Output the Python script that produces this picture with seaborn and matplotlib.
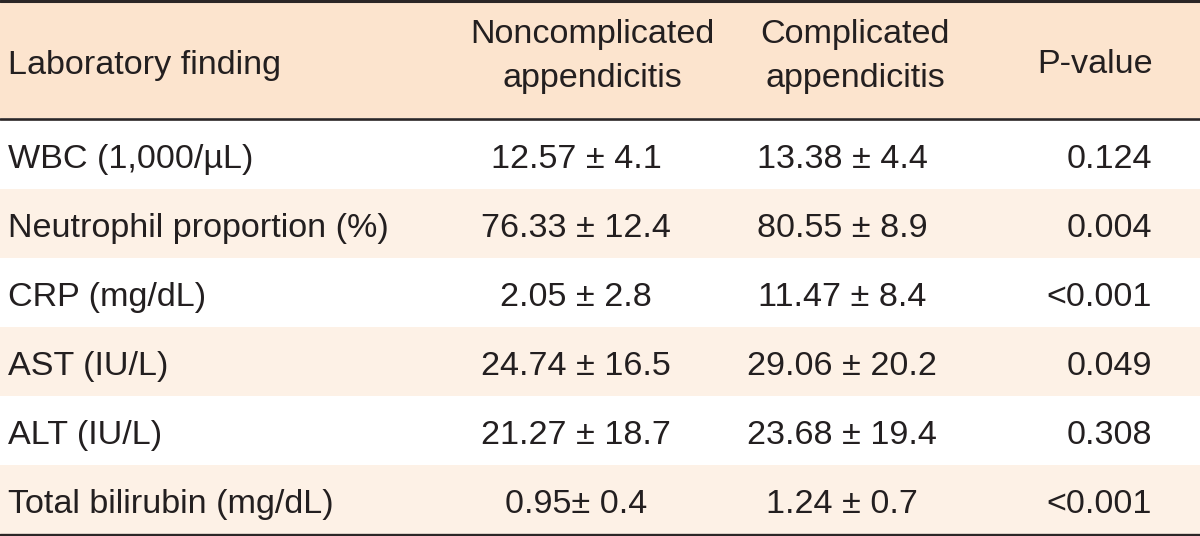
import matplotlib
matplotlib.use("Agg")
import matplotlib.pyplot as plt
import seaborn as sns

# ---- data ----
col_headers = ["Laboratory finding", "Noncomplicated\nappendicitis",
               "Complicated\nappendicitis", "P-value"]
findings = ["WBC (1,000/\u00b5L)", "Neutrophil proportion (%)", "CRP (mg/dL)",
            "AST (IU/L)", "ALT (IU/L)", "Total bilirubin (mg/dL)"]
noncomplicated = ["12.57 \u00b1 4.1", "76.33 \u00b1 12.4", "2.05 \u00b1 2.8",
                  "24.74 \u00b1 16.5", "21.27 \u00b1 18.7", "0.95\u00b1 0.4"]
complicated = ["13.38 \u00b1 4.4", "80.55 \u00b1 8.9", "11.47 \u00b1 8.4",
               "29.06 \u00b1 20.2", "23.68 \u00b1 19.4", "1.24 \u00b1 0.7"]
p_values = ["0.124", "0.004", "<0.001", "0.049", "0.308", "<0.001"]

# ---- style ----
sns.set_theme(style="white")
plt.rcParams["font.family"] = ["Liberation Sans", "DejaVu Sans"]

TXT = "#231f20"
HEAD_BG = "#fce4ce"
ALT_BG = "#fdf1e6"
LINE = "#2b2626"
FS = 24.6

W, H = 1200, 536
fig = plt.figure(figsize=(W / 100, H / 100), dpi=100)
ax = fig.add_axes([0, 0, 1, 1])
ax.set_xlim(0, W)
ax.set_ylim(H, 0)
ax.axis("off")

header_top, header_bot = 2, 118
row_h = 69
rows_top = 120

# backgrounds
ax.axhspan(header_top, header_bot, color=HEAD_BG, lw=0)
for i in range(len(findings)):
    if i % 2 == 1:
        y0 = rows_top + i * row_h
        ax.axhspan(y0, y0 + row_h, color=ALT_BG, lw=0)

# rules
ax.axhline(1.2, color=LINE, lw=2.2)
ax.axhline(119, color=LINE, lw=1.9)
ax.axhline(534.5, color=LINE, lw=2.4)

# header text
ax.text(8, 74, col_headers[0], fontsize=FS, color=TXT, ha="left", va="baseline")
for x, txt in [(592, col_headers[1]), (855, col_headers[2])]:
    l1, l2 = txt.split("\n")
    ax.text(x, 43, l1, fontsize=FS, color=TXT, ha="center", va="baseline")
    ax.text(x, 87, l2, fontsize=FS, color=TXT, ha="center", va="baseline")
ax.text(1153, 73, col_headers[3], fontsize=FS, color=TXT, ha="right", va="baseline")

# body
for i, (f, a, b, p) in enumerate(zip(findings, noncomplicated, complicated, p_values)):
    yb = 168 + i * row_h
    ax.text(8, yb, f, fontsize=FS, color=TXT, ha="left", va="baseline")
    ax.text(576, yb, a, fontsize=FS, color=TXT, ha="center", va="baseline")
    ax.text(842, yb, b, fontsize=FS, color=TXT, ha="center", va="baseline")
    ax.text(1152, yb, p, fontsize=FS, color=TXT, ha="right", va="baseline")

fig.savefig("out.png", dpi=100, facecolor="white")
